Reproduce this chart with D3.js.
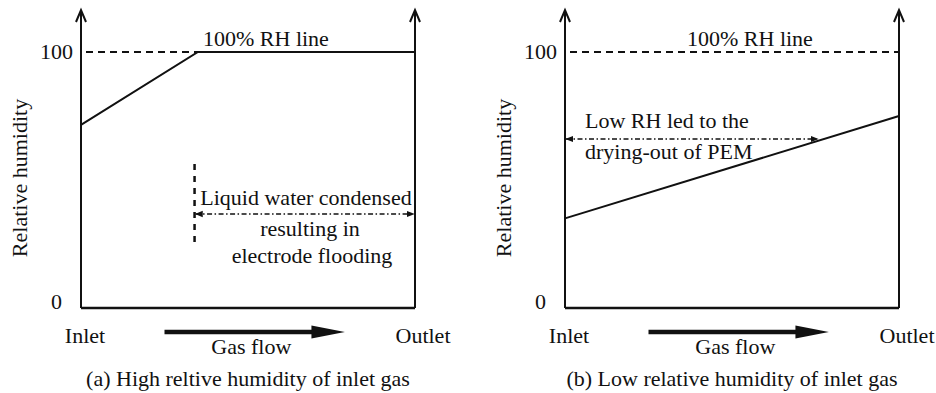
<!DOCTYPE html>
<html>
<head>
<meta charset="utf-8">
<script src="https://cdn.jsdelivr.net/npm/d3@7"></script>
</head>
<body style="margin:0;background:#fff">
<svg id="chart" width="936" height="393"></svg>
<script>
// data
var rhTicks = [0, 100]
var flowEnds = ["Inlet", "Outlet"]
var highRh = [{pos: 0, rh: 71.5}, {pos: 0.35, rh: 100}, {pos: 1, rh: 100}]
var lowRh = [{pos: 0, rh: 35}, {pos: 1, rh: 75}]
var captions = ["(a) High reltive humidity of inlet gas", "(b) Low relative humidity of inlet gas"]

var svg = d3.select("#chart")
    .attr("font-family", "'Liberation Serif', 'Times New Roman', serif")
    .attr("font-size", "22px")
    .attr("fill", "#111")
var defs = svg.append("defs")
defs.append("marker").attr("id", "dh").attr("viewBox", "0 0 10 10")
    .attr("refX", 9).attr("refY", 5).attr("markerWidth", 5).attr("markerHeight", 5)
    .attr("orient", "auto-start-reverse").attr("markerUnits", "strokeWidth")
  .append("path").attr("d", "M0,1 L10,5 L0,9 Z").attr("fill", "#111")

function panel(left, line, cap, notes) {
    var x = d3.scaleLinear().domain([0, 1]).range([left, left + 334])
    var y = d3.scaleLinear().domain([0, 100]).range([308, 52])
    var g = svg.append("g")

    // frame: two upward axes and the bottom line
    ;[0, 1].forEach(function(p) {
        g.append("line").attr("x1", x(p)).attr("x2", x(p)).attr("y1", y(0)).attr("y2", 11)
            .attr("stroke", "#111").attr("stroke-width", 2)
        g.append("path").attr("d", "M" + (x(p) - 5) + ",22 L" + x(p) + ",10 L" + (x(p) + 5) + ",22")
            .attr("fill", "none").attr("stroke", "#111").attr("stroke-width", 2)
    })
    g.append("line").attr("x1", x(0)).attr("x2", x(1)).attr("y1", y(0)).attr("y2", y(0))
        .attr("stroke", "#111").attr("stroke-width", 2.5)

    // 100% line
    g.append("line").attr("x1", x(0) + 5).attr("x2", x(1)).attr("y1", y(100)).attr("y2", y(100))
        .attr("stroke", "#111").attr("stroke-width", 2).attr("stroke-dasharray", "7,5")
    g.append("text").attr("x", x(0) + 122).attr("y", 46).text("100% RH line")

    // tick labels
    g.append("text").attr("x", x(0) - 8).attr("y", y(100) + 7).attr("text-anchor", "end").text(rhTicks[1])
    g.append("text").attr("x", x(0) - 19).attr("y", y(0) + 1).attr("text-anchor", "end").text(rhTicks[0])
    g.append("text").attr("transform", "translate(" + (x(0) - 54) + ",178) rotate(-90)")
        .attr("text-anchor", "middle").text("Relative humidity")

    // RH profile
    g.append("path").datum(line)
        .attr("d", d3.line().x(function(d) { return x(d.pos) }).y(function(d) { return y(d.rh) }))
        .attr("fill", "none").attr("stroke", "#111").attr("stroke-width", 2)

    // inlet / outlet / gas flow
    g.append("text").attr("x", x(0) + 4).attr("y", 343).attr("text-anchor", "middle").text(flowEnds[0])
    g.append("text").attr("x", x(1) + 8).attr("y", 343).attr("text-anchor", "middle").text(flowEnds[1])
    g.append("line").attr("x1", x(0.25)).attr("x2", x(0.7)).attr("y1", 332).attr("y2", 332)
        .attr("stroke", "#111").attr("stroke-width", 4.5)
    g.append("path").attr("d", "M" + x(0.69) + ",325.5 L" + x(0.79) + ",332 L" + x(0.69) + ",338.5 Z")
        .attr("fill", "#111")
    g.append("text").attr("x", x(0.51)).attr("y", 354).attr("text-anchor", "middle").text("Gas flow")
    g.append("text").attr("x", x(0.5)).attr("y", 386).attr("text-anchor", "middle").text(cap)

    notes(g, x, y)
}

panel(81, highRh, captions[0], function(g, x, y) {
    var xs = x(0.34)
    g.append("line").attr("x1", xs).attr("x2", xs).attr("y1", 164).attr("y2", 248)
        .attr("stroke", "#111").attr("stroke-width", 2.5).attr("stroke-dasharray", "6,6")
    g.append("line").attr("x1", xs + 1).attr("x2", x(1) - 1).attr("y1", 214).attr("y2", 214)
        .attr("stroke", "#111").attr("stroke-width", 1.6).attr("stroke-dasharray", "5,2.5,1.5,2.5")
        .attr("marker-start", "url(#dh)").attr("marker-end", "url(#dh)")
    g.append("text").attr("x", 306).attr("y", 205).attr("text-anchor", "middle").text("Liquid water condensed")
    g.append("text").attr("x", 310).attr("y", 236).attr("text-anchor", "middle").text("resulting in")
    g.append("text").attr("x", 312).attr("y", 263).attr("text-anchor", "middle").text("electrode flooding")
})

panel(565, lowRh, captions[1], function(g, x, y) {
    g.append("line").attr("x1", x(0) + 1).attr("x2", x(0.757)).attr("y1", 139).attr("y2", 139)
        .attr("stroke", "#111").attr("stroke-width", 1.6).attr("stroke-dasharray", "5,2.5,1.5,2.5")
        .attr("marker-start", "url(#dh)").attr("marker-end", "url(#dh)")
    g.append("text").attr("x", x(0) + 20).attr("y", 128).text("Low RH led to the")
    g.append("text").attr("x", x(0) + 20).attr("y", 159).text("drying-out of PEM")
})
</script>
</body>
</html>
